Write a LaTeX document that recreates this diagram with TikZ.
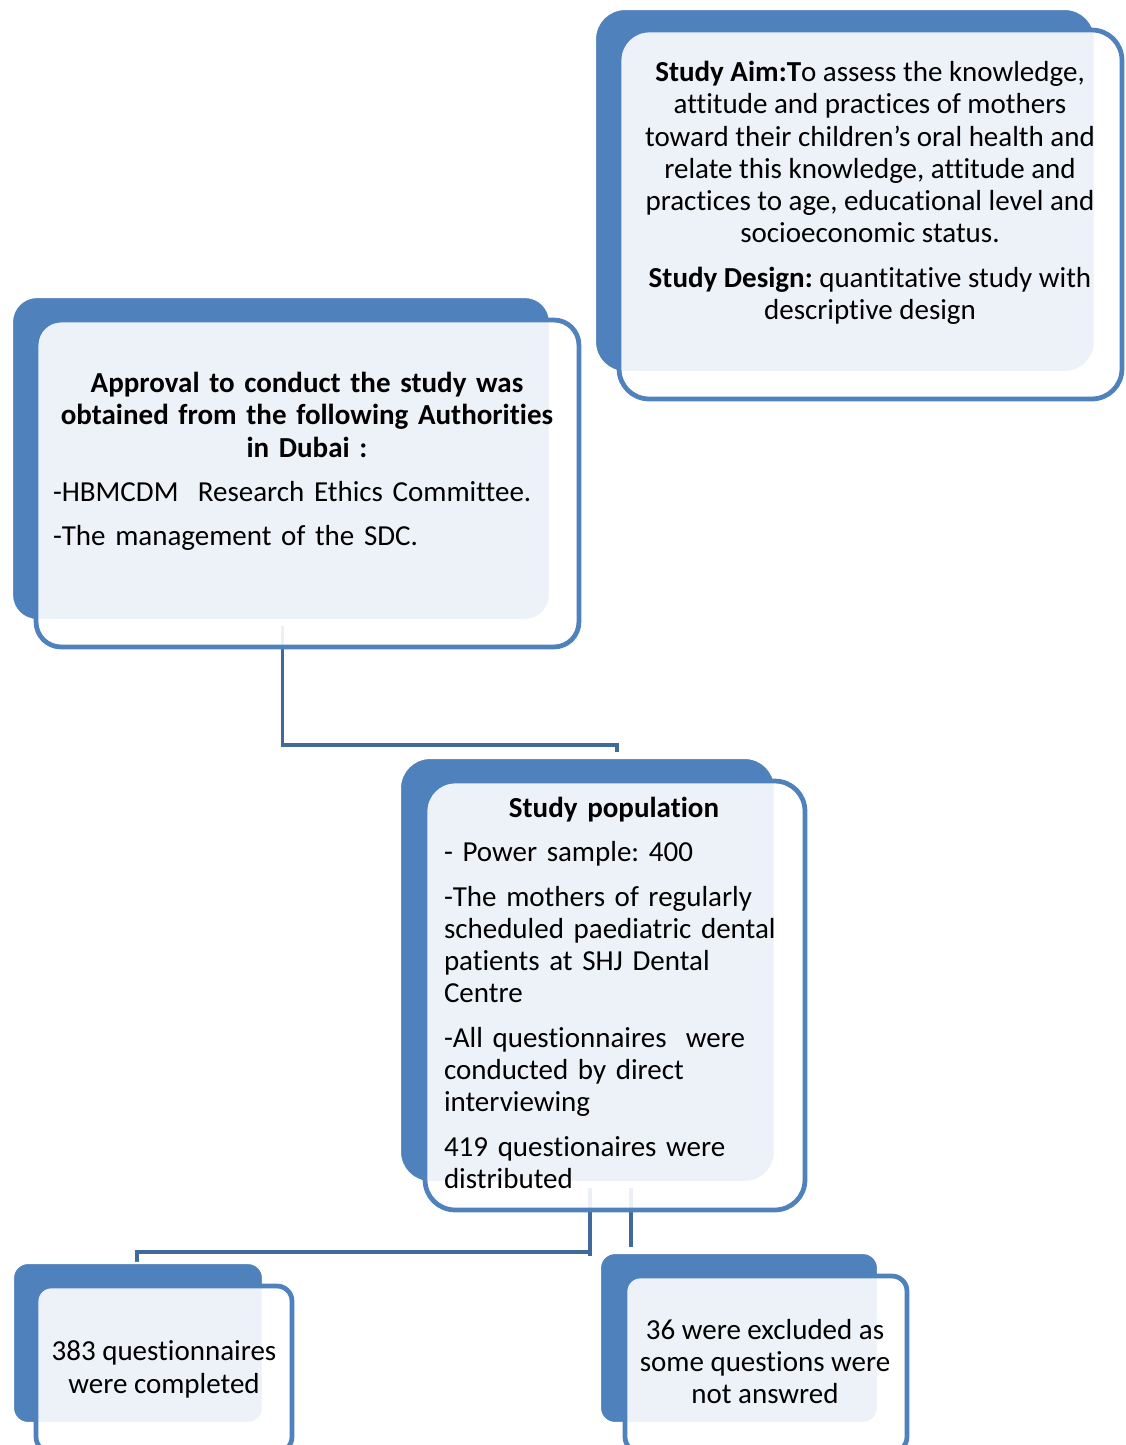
\documentclass[tikz,border=0pt]{standalone}
\usepackage{fontspec}
\setmainfont{Carlito}[Ligatures=NoCommon]
\usetikzlibrary{backgrounds}
\setlength{\parindent}{0pt}
\frenchspacing
\definecolor{accent}{HTML}{4F81BD}
\definecolor{linkblue}{HTML}{42699B}
\newcommand{\boxgap}{\vspace{0.24cm}}
\tikzset{
  backbox/.style={fill=accent, draw=white, line width=1.2pt},
  frame/.style={draw=accent, line width=2.7pt, fill=white, fill opacity=0.9, inner sep=0pt, outer sep=0pt},
  txt/.style={font=\fontsize{16.5}{18.4}\selectfont, inner sep=0pt, outer sep=0pt},
  link/.style={draw=linkblue, line width=2.2pt}
}

\begin{document}
\begin{tikzpicture}[x=0.02cm, y=-0.02cm]
    \useasboundingbox (0,0) rectangle (1126,1445);

    % study aim
    \draw[backbox, rounded corners=0.6cm] (595,9) rectangle (1095,372);
    \node[frame, rounded corners=0.6cm, minimum width=10.06cm, minimum height=7.38cm] (aim) at (870.5,214.5) {};
    \node[txt, align=center, anchor=north] (aimtxt) at (870,61) {\textbf{Study Aim:T}o assess the knowledge,\\ attitude and practices of mothers\\ toward their children’s oral health and\\ relate this knowledge, attitude and\\ practices to age, educational level and\\ socioeconomic status.\\[0.24cm] \textbf{Study Design:} quantitative study with\\ descriptive design};

    % approval
    \draw[backbox, rounded corners=0.5cm] (12,297) rectangle (550,620);
    \node[frame, rounded corners=0.5cm, minimum width=10.86cm, minimum height=6.54cm] (approval) at (307.5,483.5) {};
    \node[txt, text width=10.16cm, anchor=north west] (approvaltxt) at (53,372) {\centering\bfseries Approval to conduct the study was\\ obtained from the following Authorities\\ in Dubai :\par\boxgap\raggedright\mdseries -HBMCDM\ \ Research Ethics Committee.\par\boxgap -The management of the SDC.};

    % population
    \draw[backbox, rounded corners=0.6cm] (400,758) rectangle (775,1182);
    \node[frame, rounded corners=0.6cm, minimum width=7.6cm, minimum height=8.58cm] (population) at (615,995.5) {};
    \node[txt, text width=6.8cm, anchor=north west] (populationtxt) at (444,797) {\centering\bfseries Study population\par\boxgap\raggedright\mdseries - Power sample: 400\par\boxgap -The mothers of regularly\\ scheduled paediatric dental\\ patients at SHJ Dental\\ Centre\par\boxgap -All questionnaires\ \ were\\ conducted by direct\\ interviewing\par\boxgap 419 questionaires were\\ distributed};

    % completed
    \draw[backbox, rounded corners=0.3cm] (13,1263) rectangle (263,1423);
    \node[frame, rounded corners=0.3cm, minimum width=5.12cm, minimum height=3.32cm] (completed) at (164,1369) {};
    \node[txt, align=center, anchor=north] (completedtxt) at (164,1341) {383 questionnaires\\ were completed};

    % excluded
    \draw[backbox, rounded corners=0.3cm] (600,1253) rectangle (878,1423);
    \node[frame, rounded corners=0.3cm, minimum width=5.64cm, minimum height=3.52cm] (excluded) at (766,1364) {};
    \node[txt, align=center, anchor=north] (excludedtxt) at (765,1319) {36 were excluded as\\ some questions were\\ not answred};

    % connectors
    \begin{scope}[on background layer]
        \draw[link] ([shift={(-25,-21)}]approval.south) |- ([shift={(2,-36)}]population.north) -- ([shift={(2,-29)}]population.north);
        \draw[link] ([shift={(-25,-22)}]population.south) -- ([shift={(-25,46)}]population.south);
        \draw[link] ([shift={(-25,42)}]population.south) -| ([shift={(-27,-24)}]completed.north);
        \draw[link] ([shift={(16,-22)}]population.south) -- ([shift={(-135,-29)}]excluded.north);
    \end{scope}
\end{tikzpicture}
\end{document}
